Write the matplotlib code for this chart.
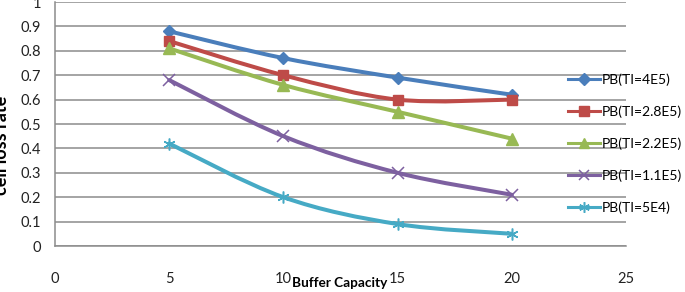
import numpy as np
import matplotlib
matplotlib.use('Agg')
from matplotlib import pyplot as plt
from matplotlib.path import Path
from matplotlib.patches import PathPatch
from matplotlib.lines import Line2D

plt.rcParams['font.family'] = ['Lato', 'DejaVu Sans']

# data
buffer_capacity = [5, 10, 15, 20]
pb_4e5 = [0.88, 0.77, 0.69, 0.62]
pb_28e5 = [0.84, 0.70, 0.60, 0.60]
pb_22e5 = [0.81, 0.66, 0.55, 0.44]
pb_11e5 = [0.68, 0.45, 0.30, 0.21]
pb_5e4 = [0.42, 0.20, 0.09, 0.05]
labels = ['PB(TI=4E5)', 'PB(TI=2.8E5)', 'PB(TI=2.2E5)', 'PB(TI=1.1E5)', 'PB(TI=5E4)']
series = [pb_4e5, pb_28e5, pb_22e5, pb_11e5, pb_5e4]

colors = ['#4A7EBB', '#BE4B48', '#98B954', '#7D60A0', '#46AAC5']
markers = ['D', 's', '^', 'x', (6, 2, 0)]
msizes = [6.5, 7.5, 8, 8, 8.5]
mews = [1, 1, 1, 1.1, 1.1]


def smooth_path(x, y, t=1.0 / 6):
    # Excel-like smoothed line as cubic bezier segments
    x = np.asarray(x, float)
    y = np.asarray(y, float)
    n = len(x)
    verts = [(x[0], y[0])]
    codes = [Path.MOVETO]
    for i in range(n - 1):
        p0 = np.array([x[max(i - 1, 0)], y[max(i - 1, 0)]])
        p1 = np.array([x[i], y[i]])
        p2 = np.array([x[i + 1], y[i + 1]])
        p3 = np.array([x[min(i + 2, n - 1)], y[min(i + 2, n - 1)]])
        c1 = p1 + (p2 - p0) * t
        c2 = p2 - (p3 - p1) * t
        verts += [tuple(c1), tuple(c2), tuple(p2)]
        codes += [Path.CURVE4] * 3
    return Path(verts, codes)


fig = plt.figure(figsize=(6.85, 2.92), dpi=100)
ax = fig.add_axes([55 / 685, 1 - 246 / 292, (626 - 55) / 685, 244 / 292])

handles = []
for s, c, m, ms, mw, lab in zip(series, colors, markers, msizes, mews, labels):
    patch = PathPatch(smooth_path(buffer_capacity, s), facecolor='none',
                      edgecolor=c, lw=2.9, zorder=3, capstyle='round', joinstyle='round')
    ax.add_patch(patch)
    ax.plot(buffer_capacity, s, linestyle='none', marker=m, color=c, ms=ms,
            mew=mw, zorder=4)
    handles.append(Line2D([], [], color=c, lw=2.2, marker=m, ms=ms * 0.9, mew=mw))

ax.set_xlim(0, 25)
ax.set_ylim(0, 1)
ax.set_xticks([0, 5, 10, 15, 20, 25])
ax.set_yticks(np.arange(0, 1.01, 0.1))
ax.set_yticklabels(['0', '0.1', '0.2', '0.3', '0.4', '0.5', '0.6', '0.7', '0.8', '0.9', '1'])
ax.tick_params(axis='both', length=0, labelsize=10.5, colors='#222222')
ax.tick_params(axis='x', pad=19)
ax.tick_params(axis='y', pad=10)
ax.yaxis.grid(True, color='#8C8C8C', lw=1.1)
ax.set_axisbelow(True)
for side in ['top', 'right']:
    ax.spines[side].set_visible(False)
for side in ['left', 'bottom']:
    ax.spines[side].set_color('#8C8C8C')
    ax.spines[side].set_linewidth(1.1)

fig.text(340 / 685, 1 - 283 / 292, 'Buffer Capacity', ha='center', va='center',
         fontsize=9.8, fontweight='bold')
fig.text(2 / 685, 0.5 + 1 / 292, 'cell loss rate', rotation=90, ha='center', va='center',
         fontsize=13, fontweight='bold')

fig.legend(handles, labels, loc='upper left', bbox_to_anchor=(568 / 685, 1 - 73 / 292),
           frameon=False, fontsize=10, handlelength=2.3, handletextpad=0.1,
           labelspacing=1.4, borderpad=0, borderaxespad=0)

fig.savefig('out.png', dpi=100)
